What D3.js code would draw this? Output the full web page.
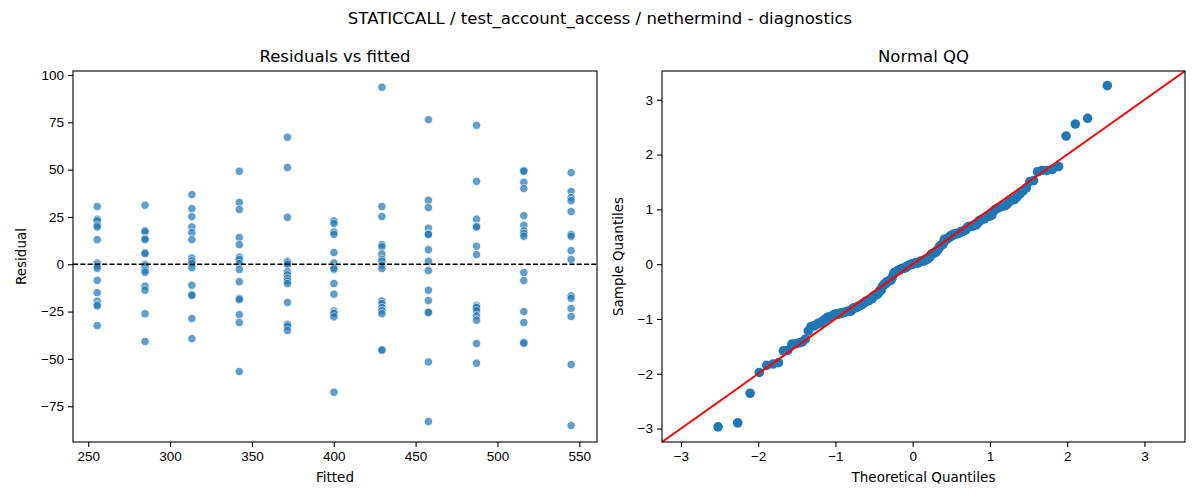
<!DOCTYPE html>
<html>
<head>
<meta charset="utf-8">
<script src="https://cdn.jsdelivr.net/npm/d3@7"></script>
<style>
  body { margin: 0; background: #fff; }
  svg { font-family: "DejaVu Sans", sans-serif; }
  .tick text { font-size: 13.5px; fill: #000; }
  .tick line { stroke: #000; stroke-width: 1.1; }
</style>
</head>
<body>
<div id="chart"></div>
<script>
const fittedValues = [255.5, 284.7, 313.3, 342.3, 371.7, 400.1, 429.4, 457.8, 487.2, 516.1, 545.0];

// residuals grouped by fitted value (same order as fittedValues)
const residualsByFitted = [
    [30.5, 23.8, 22.9, 20.6, 19.7, 13.0, 0.7, 0.0, -1.0, -2.1, -8.5, -15.0, -19.5, -21.3, -22.0, -32.4],
    [31.2, 17.8, 17.1, 13.6, 13.0, 6.2, 5.6, 0.0, -0.9, -3.2, -4.2, -11.6, -13.7, -26.1, -40.8],
    [36.8, 29.4, 25.2, 19.7, 16.7, 13.0, 3.3, 1.8, 0.4, -1.8, -11.1, -16.0, -16.5, -28.7, -39.3],
    [49.1, 32.6, 28.9, 14.1, 10.4, 3.7, 2.5, 0.4, -2.8, -9.2, -18.0, -18.7, -26.6, -30.8, -56.7],
    [67.1, 51.1, 24.8, 1.6, 1.2, 0.7, -0.2, -3.9, -5.6, -7.4, -8.8, -10.2, -20.2, -31.7, -32.7, -35.0],
    [22.9, 21.5, 17.1, 15.8, 6.2, 0.7, -1.8, -2.6, -10.2, -15.8, -24.6, -25.5, -26.1, -27.8, -67.6],
    [93.5, 30.5, 25.2, 10.4, 9.2, 5.5, 2.6, 1.6, -0.5, -2.3, -19.4, -20.8, -22.9, -24.6, -26.1, -45.1, -45.4],
    [76.4, 33.8, 29.9, 19.0, 16.0, 15.7, 7.7, 1.6, -3.3, -13.7, -19.2, -25.2, -25.5, -51.6, -83.1],
    [73.4, 43.8, 23.8, 20.1, 19.7, 9.5, 5.1, -21.7, -22.5, -22.9, -24.6, -27.3, -29.6, -41.9, -52.3],
    [49.6, 49.1, 43.3, 40.0, 25.7, 20.6, 17.6, 16.2, 14.8, -4.4, -8.6, -25.0, -30.8, -41.2, -41.7],
    [48.4, 38.4, 35.2, 33.6, 27.8, 15.8, 14.8, 7.2, 2.5, -16.7, -18.0, -23.4, -27.6, -53.0, -85.2]
];

const residTicks = [-75, -50, -25, 0, 25, 50, 75, 100];
const fittedTicks = [250, 300, 350, 400, 450, 500, 550];
const qqTicks = [-3, -2, -1, 0, 1, 2, 3];

const width = 1200, height = 500;
const left = {x0: 73, x1: 597, y0: 71, y1: 442};
const right = {x0: 662, x1: 1185, y0: 71, y1: 442};

const svg = d3.select("#chart").append("svg")
    .attr("width", width)
    .attr("height", height);

svg.append("text")
    .attr("x", width / 2)
    .attr("y", 24)
    .attr("text-anchor", "middle")
    .style("font-size", "16.5px")
    .text("STATICCALL / test_account_access / nethermind - diagnostics");

// inverse normal cdf (Acklam)
function normInv(p) {
    const a = [-3.969683028665376e+01, 2.209460984245205e+02, -2.759285104469687e+02, 1.383577518672690e+02, -3.066479806614716e+01, 2.506628277459239e+00];
    const b = [-5.447609879822406e+01, 1.615858368580409e+02, -1.556989798598866e+02, 6.680131188771972e+01, -1.328068155288572e+01];
    const c = [-7.784894002430293e-03, -3.223964580411365e-01, -2.400758277161838e+00, -2.549732539343734e+00, 4.374664141464968e+00, 2.938163982698783e+00];
    const d = [7.784695709041462e-03, 3.224671290700398e-01, 2.445134137142996e+00, 3.754408661907416e+00];
    const pl = 0.02425;
    let q, r;
    if (p < pl) {
        q = Math.sqrt(-2 * Math.log(p));
        return (((((c[0]*q+c[1])*q+c[2])*q+c[3])*q+c[4])*q+c[5]) / ((((d[0]*q+d[1])*q+d[2])*q+d[3])*q+1);
    } else if (p <= 1 - pl) {
        q = p - 0.5; r = q * q;
        return (((((a[0]*r+a[1])*r+a[2])*r+a[3])*r+a[4])*r+a[5])*q / (((((b[0]*r+b[1])*r+b[2])*r+b[3])*r+b[4])*r+1);
    }
    q = Math.sqrt(-2 * Math.log(1 - p));
    return -(((((c[0]*q+c[1])*q+c[2])*q+c[3])*q+c[4])*q+c[5]) / ((((d[0]*q+d[1])*q+d[2])*q+d[3])*q+1);
}

const minusFmt = d => d < 0 ? "\u2212" + Math.abs(d) : String(d);

function drawFrame(g, box, title, xlabel, ylabel, ylabelOffset) {
    g.append("rect")
        .attr("x", box.x0).attr("y", box.y0)
        .attr("width", box.x1 - box.x0).attr("height", box.y1 - box.y0)
        .style("fill", "none").style("stroke", "#000").style("stroke-width", 1.1);
    g.append("text")
        .attr("x", (box.x0 + box.x1) / 2).attr("y", box.y0 - 9)
        .attr("text-anchor", "middle").style("font-size", "16.5px")
        .text(title);
    g.append("text")
        .attr("x", (box.x0 + box.x1) / 2).attr("y", 482)
        .attr("text-anchor", "middle").style("font-size", "13.5px")
        .text(xlabel);
    g.append("text")
        .attr("transform", `translate(${box.x0 - ylabelOffset},${(box.y0 + box.y1) / 2}) rotate(-90)`)
        .attr("text-anchor", "middle").style("font-size", "13.5px")
        .text(ylabel);
}

// ---- residuals vs fitted ----
const x1 = d3.scaleLinear().domain([240.7, 560.8]).range([left.x0, left.x1]);
const y1 = d3.scaleLinear().domain([-93.9, 102.1]).range([left.y1, left.y0]);

const g1 = svg.append("g");
g1.append("g")
    .attr("transform", `translate(0,${left.y1})`)
    .call(d3.axisBottom(x1).tickValues(fittedTicks).tickSize(5).tickPadding(4))
    .call(g => g.select(".domain").remove());
g1.append("g")
    .attr("transform", `translate(${left.x0},0)`)
    .call(d3.axisLeft(y1).tickValues(residTicks).tickFormat(minusFmt).tickSize(5).tickPadding(4))
    .call(g => g.select(".domain").remove());

const residPoints = [];
fittedValues.forEach((f, i) => residualsByFitted[i].forEach(r => residPoints.push({f, r})));

g1.selectAll("circle.resid")
    .data(residPoints)
    .join("circle")
    .attr("class", "resid")
    .attr("cx", d => x1(d.f))
    .attr("cy", d => y1(d.r))
    .attr("r", 4.2)
    .style("fill", "#1f77b4")
    .style("stroke", "#fff")
    .style("stroke-width", 0.8)
    .style("opacity", 0.7);

g1.append("line")
    .attr("x1", left.x0).attr("x2", left.x1)
    .attr("y1", y1(0)).attr("y2", y1(0))
    .style("stroke", "#000").style("stroke-width", 1.3)
    .attr("stroke-dasharray", "5.1,2.2");

drawFrame(g1, left, "Residuals vs fitted", "Fitted", "Residual", 47);

// ---- normal QQ ----
// OLS residuals: scaled by the residual standard error (n - 2 dof)
const allResid = residPoints.map(d => d.r).sort((a, b) => a - b);
const n = allResid.length;
const se = Math.sqrt(d3.sum(allResid, v => v * v) / (n - 2));
const qqData = allResid.map((v, i) => ({t: normInv((i + 1) / (n + 1)), s: v / se}));

const qqDomain = [-3.245, 3.525];
const x2 = d3.scaleLinear().domain(qqDomain).range([right.x0, right.x1]);
const y2 = d3.scaleLinear().domain(qqDomain).range([right.y1, right.y0]);

const g2 = svg.append("g");
g2.append("g")
    .attr("transform", `translate(0,${right.y1})`)
    .call(d3.axisBottom(x2).tickValues(qqTicks).tickFormat(minusFmt).tickSize(5).tickPadding(4))
    .call(g => g.select(".domain").remove());
g2.append("g")
    .attr("transform", `translate(${right.x0},0)`)
    .call(d3.axisLeft(y2).tickValues(qqTicks).tickFormat(minusFmt).tickSize(5).tickPadding(4))
    .call(g => g.select(".domain").remove());

g2.selectAll("circle.qq")
    .data(qqData)
    .join("circle")
    .attr("class", "qq")
    .attr("cx", d => x2(d.t))
    .attr("cy", d => y2(d.s))
    .attr("r", 4.8)
    .style("fill", "#1f77b4");

g2.append("line")
    .attr("x1", x2(qqDomain[0])).attr("y1", y2(qqDomain[0]))
    .attr("x2", x2(qqDomain[1])).attr("y2", y2(qqDomain[1]))
    .style("stroke", "#ff0000").style("stroke-width", 2);

drawFrame(g2, right, "Normal QQ", "Theoretical Quantiles", "Sample Quantiles", 39);
</script>
</body>
</html>
